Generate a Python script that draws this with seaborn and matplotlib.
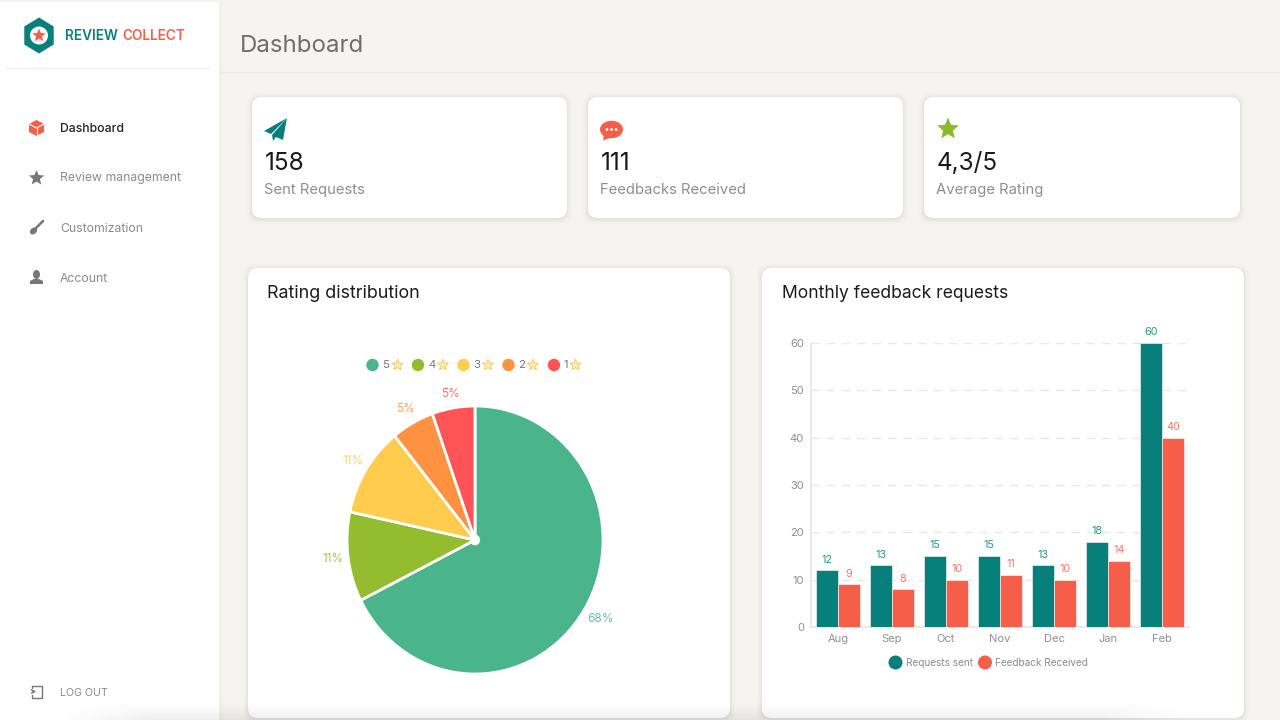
import numpy as np
import pandas as pd
import matplotlib
matplotlib.use('Agg')
import matplotlib.pyplot as plt
import seaborn as sns
from matplotlib.patches import FancyBboxPatch, Rectangle, Polygon, Circle, Ellipse

sns.set_theme(style='white')
plt.rcParams['font.family'] = ['Inter', 'DejaVu Sans']

TEAL = '#07807C'
CORAL = '#F55E49'
BG = '#F5F4F0'
GREY = '#8A8A8A'

# sidebar / cards
menu_items = ['Dashboard', 'Review management', 'Customization', 'Account']
kpi_values = ['158', '111', '4,3/5']
kpi_labels = ['Sent Requests', 'Feedbacks Received', 'Average Rating']

# pie
rating_names = ['5', '4', '3', '2', '1']
rating_counts = [75, 12, 12, 6, 6]
rating_colors = ['#4AB48B', '#93BD2E', '#FFCC4D', '#FF9240', '#FF5457']

# bars
months = ['Aug', 'Sep', 'Oct', 'Nov', 'Dec', 'Jan', 'Feb']
requests_sent = [12, 13, 15, 15, 13, 18, 60]
feedback_received = [9, 8, 10, 11, 10, 14, 40]
y_ticks = [0, 10, 20, 30, 40, 50, 60]

W, H = 1280, 720
fig = plt.figure(figsize=(12.8, 7.2), dpi=100, facecolor=BG)


def px_axes(left, top, right, bottom, **kw):
    return fig.add_axes([left / W, 1 - bottom / H, (right - left) / W, (bottom - top) / H], **kw)


ui = px_axes(0, 0, W, H)
ui.set_xlim(0, W)
ui.set_ylim(H, 0)
ui.axis('off')


def card(x0, y0, x1, y1, r=10):
    # soft shadow first
    for grow, a in [(5, 0.006), (4, 0.008), (3, 0.012), (2, 0.016), (1, 0.02)]:
        ui.add_patch(FancyBboxPatch((x0 - grow + r, y0 + 1 - grow + r), x1 - x0 + 2 * grow - 2 * r,
                                    y1 - y0 + 2 * grow - 2 * r, boxstyle=f'round,pad={r},rounding_size={r}',
                                    fc='black', ec='none', alpha=a, zorder=1))
    ui.add_patch(FancyBboxPatch((x0 + r, y0 + r), x1 - x0 - 2 * r, y1 - y0 - 2 * r,
                                boxstyle=f'round,pad={r},rounding_size={r}', fc='white', ec='none', zorder=2))


def star(cx, cy, r, color, z=5, ec='none'):
    a = np.deg2rad(np.arange(10) * 36 - 90)
    rad = np.where(np.arange(10) % 2 == 0, r, r * 0.45)
    ui.add_patch(Polygon(np.c_[cx + rad * np.cos(a), cy + rad * np.sin(a)], fc=color, ec=ec, lw=0.6, zorder=z))


# sidebar
ui.add_patch(Rectangle((0, 2), 219, 718, fc='white', ec='none', zorder=1))
ui.plot([5, 210], [67.5, 67.5], color='#F0F0F0', lw=1, zorder=2)
ui.plot([220, W], [71.5, 71.5], color='#ECEBE7', lw=1, zorder=2)
ui.plot([219.5, 219.5], [0, H], color='#EFEEEA', lw=1, zorder=2)

# logo
hexa = np.deg2rad(np.arange(6) * 60 - 90)
ui.add_patch(Polygon(np.c_[39 + 17 * np.cos(hexa), 35.5 + 18 * np.sin(hexa)], fc=TEAL, ec='none', zorder=3))
ui.add_patch(Circle((39, 35.5), 9, fc='white', ec='none', zorder=4))
star(39, 35.5, 7, CORAL)
ui.text(65, 40.5, 'REVIEW', color=TEAL, fontsize=9.8, weight='semibold', va='baseline', zorder=5)
ui.text(122, 40.5, 'COLLECT', color=CORAL, fontsize=9.8, weight='semibold', va='baseline', zorder=5)

# menu
menu_y = [131.5, 181.5, 231.5, 281.5]
for i, (name, y) in enumerate(zip(menu_items, menu_y)):
    ui.text(60, y, name, fontsize=8.8, color='#222222' if i == 0 else GREY, va='baseline',
            weight='medium' if i == 0 else 'normal', zorder=5)
ui.add_patch(Polygon([[36.5, 120], [44, 124], [44, 132], [36.5, 136], [29, 132], [29, 124]], fc=CORAL, ec='none', zorder=5))
ui.plot([29, 36.5, 44], [124, 128, 124], color='white', lw=0.8, zorder=6)
ui.plot([36.5, 36.5], [128, 136], color='white', lw=0.8, zorder=6)
star(36.5, 178, 8, '#777777')
ui.plot([35, 43], [229, 221], color='#777777', lw=1.8, solid_capstyle='round', zorder=5)
ui.add_patch(Ellipse((33.5, 231), 8, 6, angle=-40, fc='#777777', ec='none', zorder=5))
ui.add_patch(Ellipse((36.5, 274.5), 7, 9, fc='#777777', ec='none', zorder=5))
ui.add_patch(Polygon([[30, 284], [30, 281], [34, 279], [39, 279], [43, 281], [43, 284]], fc='#777777', ec='none', zorder=5))
ui.plot([32, 42, 42, 32, 32], [685.5, 685.5, 697.5, 697.5, 695], color='#777777', lw=1, zorder=5)
ui.plot([32, 32], [685.5, 688], color='#777777', lw=1, zorder=5)
ui.annotate('', xy=(39, 691.5), xytext=(30, 691.5), arrowprops=dict(arrowstyle='->', color='#777777', lw=1, mutation_scale=6), zorder=5)
ui.text(60, 695.5, 'LOG OUT', fontsize=7.7, color=GREY, va='baseline', zorder=5)

ui.text(240, 52, 'Dashboard', fontsize=17.3, color='#6E6E6E', va='baseline', zorder=5)

# kpi cards
kpi_x = [(252, 567), (588, 903), (924, 1240)]
for (x0, x1), val, lab in zip(kpi_x, kpi_values, kpi_labels):
    card(x0, 97, x1, 218)
    ui.text(x0 + 12.5, 170.5, val, fontsize=17.5, color='#1A1A1A', va='baseline', zorder=5)
    ui.text(x0 + 12.5, 194, lab, fontsize=10.7, color='#8E8E8E', va='baseline', zorder=5)

# paper plane
ui.add_patch(Polygon([[287, 118], [264, 131], [271, 134], [287, 118]], fc=TEAL, ec='none', zorder=5))
ui.add_patch(Polygon([[287, 118], [272, 135], [273, 141], [276, 137], [283, 140]], fc=TEAL, ec='none', zorder=5))
# chat bubble
ui.add_patch(Ellipse((611.5, 129.5), 23, 17.5, fc=CORAL, ec='none', zorder=5))
ui.add_patch(Polygon([[604, 135], [603, 140.5], [611, 137.5]], fc=CORAL, ec='none', zorder=5))
for dx in (-4.5, 0, 4.5):
    ui.add_patch(Circle((611.5 + dx, 129.5), 1.4, fc='white', ec='none', zorder=6))
star(948, 129, 11.5, '#8BBB2B')

# chart cards
card(248, 268, 730, 718)
card(762, 268, 1244, 718)
ui.text(267, 298.5, 'Rating distribution', fontsize=12.9, color='#1C1C1C', va='baseline', zorder=5)
ui.text(782, 298.5, 'Monthly feedback requests', fontsize=12.6, color='#1C1C1C', va='baseline', zorder=5)

# pie legend
legend_x = [372.5, 418, 463.5, 508.5, 554]
star_x = [397.5, 443, 488, 533, 575.5]
for name, col, x, sx in zip(rating_names, rating_colors, legend_x, star_x):
    ui.add_patch(Circle((x, 365), 6.2, fc=col, ec='none', zorder=5))
    ui.text(x + 10, 368, name, fontsize=8.2, color='#777777', va='baseline', zorder=5)
    star(sx, 365, 5.8, '#FFEDB0', ec='#F2C65A')

# pie
pie_ax = px_axes(315, 372.5, 635, 707.5)
pie_ax.patch.set_alpha(0)
wedges, _, pct_texts = pie_ax.pie(rating_counts, colors=rating_colors, startangle=90, counterclock=False,
                                  autopct='%.0f%%', pctdistance=1.12, radius=1,
                                  wedgeprops=dict(edgecolor='white', linewidth=2))
pie_ax.set_aspect('auto')
pie_ax.set_xlim(-1.25, 1.25)
pie_ax.set_ylim(-1.25, 1.25)
for t, col in zip(pct_texts, rating_colors):
    t.set_color(col)
    t.set_fontsize(8.5)
    t.set_alpha(0.85)
# nudge the two labels that sit off the common radius
x0, y0 = pct_texts[0].get_position()
pct_texts[0].set_position((x0 + 0.03, y0))
x4, y4 = pct_texts[4].get_position()
pct_texts[4].set_position((x4, y4 - 0.015))
pie_ax.add_patch(Circle((0, 0), 0.04, fc='white', ec='none', zorder=5))

# bars
bar_ax = px_axes(811, 343, 1189, 627)
bar_ax.patch.set_alpha(0)
df = pd.DataFrame({'month': months, 'Requests sent': requests_sent, 'Feedback Received': feedback_received})
df = df.melt(id_vars='month', var_name='series', value_name='count')
sns.barplot(data=df, x='month', y='count', hue='series', palette=[TEAL, CORAL], width=0.8, gap=0, ax=bar_ax,
            legend=False, saturation=1, edgecolor='white', linewidth=0.4, zorder=3)
bar_ax.set_xlim(-0.5, 6.5)
bar_ax.set_ylim(0, 60)
bar_ax.set_yticks(y_ticks)
bar_ax.set_xlabel('')
bar_ax.set_ylabel('')
bar_ax.grid(axis='y', color='#E8E8E8', lw=1, ls=(0, (6, 5)), zorder=0)
sns.despine(ax=bar_ax, left=False, bottom=False, top=True, right=True)
for side in ('left', 'bottom'):
    bar_ax.spines[side].set_color('#E6E6E6')
bar_ax.tick_params(axis='both', length=0, labelsize=8, labelcolor='#8F8F8F')
bar_ax.tick_params(axis='x', pad=5)
bar_ax.tick_params(axis='y', pad=5)
for cont, col in zip(bar_ax.containers, [TEAL, CORAL]):
    bar_ax.bar_label(cont, padding=4, fontsize=7.8, color=col, alpha=0.85, clip_on=False)

# bar legend
ui.add_patch(Circle((895.5, 662.5), 7, fc=TEAL, ec='none', zorder=5))
ui.text(905.5, 666, 'Requests sent', fontsize=7.2, color='#8A8A8A', va='baseline', zorder=5)
ui.add_patch(Circle((985, 662.5), 7, fc=CORAL, ec='none', zorder=5))
ui.text(995, 666, 'Feedback Received', fontsize=7.2, color='#8A8A8A', va='baseline', zorder=5)

# grey fade along the bottom edge of the screenshot
fade_ax = px_axes(60, 695, 1190, 720)
fade_ax.axis('off')
vert = np.linspace(0, 1, 25)[:, None] ** 2
horiz = np.clip(np.minimum(np.arange(1130) / 90, (1130 - np.arange(1130)) / 90), 0, 1)[None, :]
rgba = np.zeros((25, 1130, 4))
rgba[..., 3] = vert * horiz * 0.07
fade_ax.imshow(rgba, aspect='auto')

fig.savefig('out.png', dpi=100, facecolor=BG)
